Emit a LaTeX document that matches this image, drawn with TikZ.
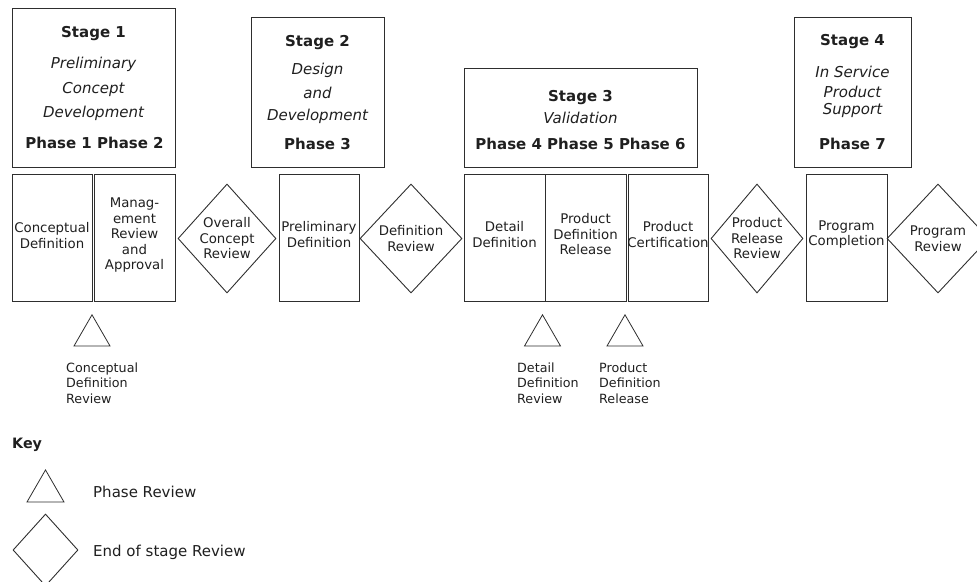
\documentclass[tikz,border=0pt]{standalone}
\usepackage{fontspec}
\setmainfont{DejaVu Sans}
\usetikzlibrary{shapes.geometric}
\colorlet{ink}{black!82}
\newcommand\hdsize{\fontsize{15}{18}\selectfont}
\newcommand\cellsize{\fontsize{13.3}{15.5}\selectfont}
\newcommand\notesize{\fontsize{12.7}{15.5}\selectfont}
\newcommand\keysize{\fontsize{15}{18}\selectfont}

\begin{document}
\begin{tikzpicture}[x=1pt,y=-1pt,
  every node/.style={text=black!88},
  frame/.style={draw=ink, line width=0.9pt, rectangle, inner sep=0pt},
  gate/.style={draw=ink, line width=0.9pt, diamond, inner sep=0pt},
  mark3/.style={draw=ink, line width=0.8pt, regular polygon,
    regular polygon sides=3, inner sep=0pt, minimum size=41.6pt},
  title/.style={font=\hdsize\bfseries, anchor=base, inner sep=0pt},
  sub/.style={font=\hdsize\itshape, anchor=base, inner sep=0pt},
  cell/.style={font=\cellsize, align=center, inner sep=0pt},
  note/.style={font=\notesize, align=left, anchor=west, inner sep=0pt},
  keytext/.style={font=\keysize, anchor=west, inner sep=0pt},
]
\useasboundingbox (0,0) rectangle (977,581);

% ---- stage headers ----
\node[frame, minimum width=163pt, minimum height=159pt] (s1) at (93.5,87.5) {};
\node[title] (s1a) at (93.5,37)  {Stage 1};
\node[sub]   (s1b) at (93.5,68)  {Preliminary};
\node[sub]   (s1c) at (93.5,93)  {Concept};
\node[sub]   (s1d) at (93.5,117) {Development};
\node[title] (s1e) at (94.5,148) {Phase 1 Phase 2};

\node[frame, minimum width=133pt, minimum height=150pt] (s2) at (317.5,92) {};
\node[title] (s2a) at (317.5,46)  {Stage 2};
\node[sub]   (s2b) at (317.5,74)  {Design};
\node[sub]   (s2c) at (317.5,98)  {and};
\node[sub]   (s2d) at (317.5,120) {Development};
\node[title] (s2e) at (317.5,149) {Phase 3};

\node[frame, minimum width=233pt, minimum height=99pt] (s3) at (580.5,117.5) {};
\node[title] (s3a) at (580.5,101) {Stage 3};
\node[sub]   (s3b) at (580.5,123) {Validation};
\node[title] (s3c) at (580.5,149) {Phase 4 Phase 5 Phase 6};

\node[frame, minimum width=117pt, minimum height=150pt] (s4) at (852.5,92) {};
\node[title] (s4a) at (852.5,45)  {Stage 4};
\node[sub]   (s4b) at (852.5,77)  {In Service};
\node[sub]   (s4c) at (852.5,97)  {Product};
\node[sub]   (s4d) at (852.5,114) {Support};
\node[title] (s4e) at (852.5,149) {Phase 7};

% ---- activity boxes ----
\node[frame, minimum width=80pt, minimum height=127pt] (cd)   at (52,237.5)    {};
\node[cell] at ([yshift=2pt]cd) {Conceptual\\Definition};
\node[frame, minimum width=81pt, minimum height=127pt] (mra)  at (134.5,237.5) {};
\node[cell] at ([yshift=2pt]mra) {Manag-\\ement\\Review\\and\\Approval};
\node[frame, minimum width=80pt, minimum height=127pt] (pd)   at (319,237.5)   {};
\node[cell] at ([yshift=3pt]pd) {Preliminary\\Definition};
\node[frame, minimum width=81pt, minimum height=127pt] (dd)   at (504.5,237.5) {};
\node[cell] at ([yshift=3pt]dd) {Detail\\Definition};
\node[frame, minimum width=81pt, minimum height=127pt] (pdr)  at (585.5,237.5) {};
\node[cell] at ([yshift=3pt]pdr) {Product\\Definition\\Release};
\node[frame, minimum width=80pt, minimum height=127pt] (pc)   at (668,237.5)   {};
\node[cell] at ([yshift=3pt]pc) {Product\\Certification};
\node[frame, minimum width=81pt, minimum height=127pt] (pcm)  at (846.5,237.5) {};
\node[cell] at ([yshift=3pt]pcm) {Program\\Completion};

% ---- end of stage reviews ----
\node[gate, minimum width=98pt,  minimum height=109pt] (ocr) at (227,238.5) {};
\node[cell] at (ocr) {Overall\\Concept\\Review};
\node[gate, minimum width=102pt, minimum height=109pt] (dr)  at (411,238.5) {};
\node[cell] at (dr) {Definition\\Review};
\node[gate, minimum width=92pt,  minimum height=109pt] (prr) at (757,238.5) {};
\node[cell] at (prr) {Product\\Release\\Review};
\node[gate, minimum width=102pt, minimum height=109pt] (pgr) at (938,238.5) {};
\node[cell] at (pgr) {Program\\Review};

% ---- phase reviews ----
\node[mark3] (t1) at (92,335.6)    {};
\node[note]  (t1l) at (66,383)  {Conceptual\\Definition\\Review};
\node[mark3] (t2) at (542.5,335.6) {};
\node[note]  (t2l) at (517,383) {Detail\\Definition\\Review};
\node[mark3] (t3) at (625,335.6)   {};
\node[note]  (t3l) at (599,383) {Product\\Definition\\Release};

% ---- key ----
\node[font=\fontsize{14.3}{17}\selectfont\bfseries, anchor=west, inner sep=0pt] (key) at (12,445) {Key};
\node[mark3, minimum size=42.7pt] (k1) at (45.5,491.3) {};
\node[keytext] (k1l) at (93,492) {Phase Review};
\node[gate, minimum width=65pt, minimum height=72pt] (k2) at (45.5,550) {};
\node[keytext] (k2l) at (93,552) {End of stage Review};
\end{tikzpicture}
\end{document}
